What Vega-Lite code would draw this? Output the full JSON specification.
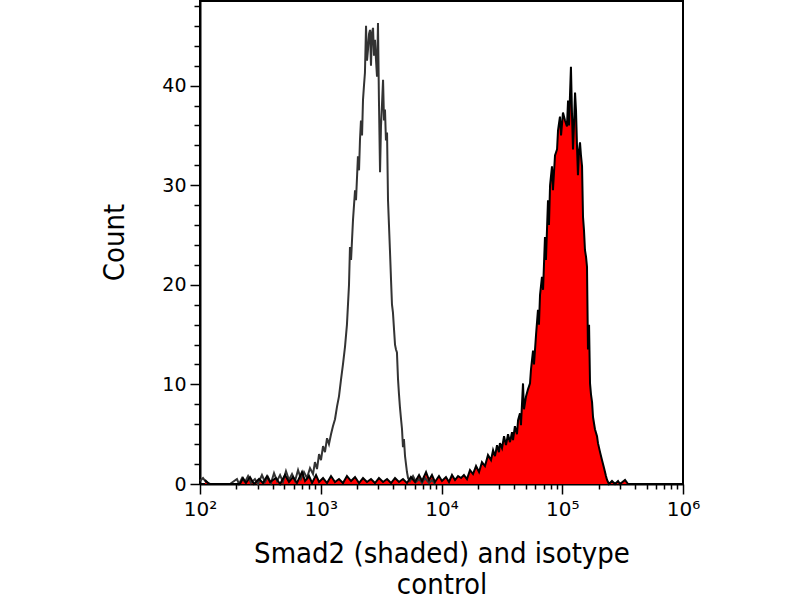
{
  "$schema": "https://vega.github.io/schema/vega-lite/v6.json",
  "autosize": {"type": "none"},
  "padding": {"left": 200, "top": 1, "right": 117, "bottom": 116},
  "width": 483,
  "height": 483,
  "background": "white",
  "config": {
    "view": {"stroke": "black", "strokeWidth": 2},
    "axis": {
      "grid": false,
      "domainColor": "black",
      "domainWidth": 2,
      "tickColor": "black",
      "tickWidth": 1.5,
      "labelColor": "black",
      "titleColor": "black",
      "labelFont": "DejaVu Sans",
      "titleFont": "DejaVu Sans Condensed, DejaVu Sans",
      "titleFontSize": 29,
      "titleFontWeight": "normal",
      "labelOverlap": false,
      "labelFlush": false
    }
  },
  "data": {
    "values": [
      {"series": "isotype", "log_intensity": 2.000, "count": 0.3},
      {"series": "isotype", "log_intensity": 2.025, "count": 0.6},
      {"series": "isotype", "log_intensity": 2.050, "count": 0.2},
      {"series": "isotype", "log_intensity": 2.083, "count": 0},
      {"series": "isotype", "log_intensity": 2.248, "count": 0},
      {"series": "isotype", "log_intensity": 2.306, "count": 0.5},
      {"series": "isotype", "log_intensity": 2.323, "count": 0},
      {"series": "isotype", "log_intensity": 2.348, "count": 0.6},
      {"series": "isotype", "log_intensity": 2.373, "count": 0.2},
      {"series": "isotype", "log_intensity": 2.398, "count": 0.8},
      {"series": "isotype", "log_intensity": 2.422, "count": 0.1},
      {"series": "isotype", "log_intensity": 2.455, "count": 0.5},
      {"series": "isotype", "log_intensity": 2.480, "count": 0},
      {"series": "isotype", "log_intensity": 2.513, "count": 0.9},
      {"series": "isotype", "log_intensity": 2.538, "count": 0.2},
      {"series": "isotype", "log_intensity": 2.563, "count": 0.7},
      {"series": "isotype", "log_intensity": 2.588, "count": 0.1},
      {"series": "isotype", "log_intensity": 2.613, "count": 1.1},
      {"series": "isotype", "log_intensity": 2.638, "count": 0.3},
      {"series": "isotype", "log_intensity": 2.663, "count": 0.9},
      {"series": "isotype", "log_intensity": 2.687, "count": 0.2},
      {"series": "isotype", "log_intensity": 2.712, "count": 1.3},
      {"series": "isotype", "log_intensity": 2.737, "count": 0.4},
      {"series": "isotype", "log_intensity": 2.762, "count": 1.0},
      {"series": "isotype", "log_intensity": 2.787, "count": 0.3},
      {"series": "isotype", "log_intensity": 2.812, "count": 1.4},
      {"series": "isotype", "log_intensity": 2.836, "count": 0.5},
      {"series": "isotype", "log_intensity": 2.861, "count": 1.2},
      {"series": "isotype", "log_intensity": 2.886, "count": 0.6},
      {"series": "isotype", "log_intensity": 2.911, "count": 1.6},
      {"series": "isotype", "log_intensity": 2.936, "count": 1.0},
      {"series": "isotype", "log_intensity": 2.952, "count": 2.2},
      {"series": "isotype", "log_intensity": 2.969, "count": 1.5},
      {"series": "isotype", "log_intensity": 2.986, "count": 3.0},
      {"series": "isotype", "log_intensity": 3.002, "count": 2.4},
      {"series": "isotype", "log_intensity": 3.019, "count": 3.8},
      {"series": "isotype", "log_intensity": 3.035, "count": 3.2},
      {"series": "isotype", "log_intensity": 3.052, "count": 4.6},
      {"series": "isotype", "log_intensity": 3.068, "count": 4.0},
      {"series": "isotype", "log_intensity": 3.085, "count": 5.0},
      {"series": "isotype", "log_intensity": 3.101, "count": 5.8},
      {"series": "isotype", "log_intensity": 3.118, "count": 6.5},
      {"series": "isotype", "log_intensity": 3.135, "count": 7.8},
      {"series": "isotype", "log_intensity": 3.151, "count": 8.8},
      {"series": "isotype", "log_intensity": 3.168, "count": 10.5},
      {"series": "isotype", "log_intensity": 3.184, "count": 12.0},
      {"series": "isotype", "log_intensity": 3.201, "count": 13.8},
      {"series": "isotype", "log_intensity": 3.217, "count": 16.0},
      {"series": "isotype", "log_intensity": 3.234, "count": 20.0},
      {"series": "isotype", "log_intensity": 3.242, "count": 23.8},
      {"series": "isotype", "log_intensity": 3.251, "count": 22.5},
      {"series": "isotype", "log_intensity": 3.259, "count": 24.5},
      {"series": "isotype", "log_intensity": 3.267, "count": 26.5},
      {"series": "isotype", "log_intensity": 3.284, "count": 29.5},
      {"series": "isotype", "log_intensity": 3.292, "count": 28.5},
      {"series": "isotype", "log_intensity": 3.308, "count": 32.9},
      {"series": "isotype", "log_intensity": 3.317, "count": 31.5},
      {"series": "isotype", "log_intensity": 3.325, "count": 34.6},
      {"series": "isotype", "log_intensity": 3.333, "count": 36.5},
      {"series": "isotype", "log_intensity": 3.342, "count": 35.0},
      {"series": "isotype", "log_intensity": 3.350, "count": 38.6},
      {"series": "isotype", "log_intensity": 3.358, "count": 40.0},
      {"series": "isotype", "log_intensity": 3.366, "count": 41.3},
      {"series": "isotype", "log_intensity": 3.375, "count": 46.0},
      {"series": "isotype", "log_intensity": 3.383, "count": 42.5},
      {"series": "isotype", "log_intensity": 3.391, "count": 43.6},
      {"series": "isotype", "log_intensity": 3.400, "count": 45.2},
      {"series": "isotype", "log_intensity": 3.408, "count": 45.6},
      {"series": "isotype", "log_intensity": 3.416, "count": 42.0},
      {"series": "isotype", "log_intensity": 3.424, "count": 45.3},
      {"series": "isotype", "log_intensity": 3.433, "count": 45.8},
      {"series": "isotype", "log_intensity": 3.441, "count": 43.0},
      {"series": "isotype", "log_intensity": 3.449, "count": 44.6},
      {"series": "isotype", "log_intensity": 3.458, "count": 42.5},
      {"series": "isotype", "log_intensity": 3.466, "count": 40.9},
      {"series": "isotype", "log_intensity": 3.474, "count": 46.3},
      {"series": "isotype", "log_intensity": 3.482, "count": 38.5},
      {"series": "isotype", "log_intensity": 3.491, "count": 31.3},
      {"series": "isotype", "log_intensity": 3.499, "count": 36.0},
      {"series": "isotype", "log_intensity": 3.507, "count": 38.0},
      {"series": "isotype", "log_intensity": 3.516, "count": 40.6},
      {"series": "isotype", "log_intensity": 3.524, "count": 36.5},
      {"series": "isotype", "log_intensity": 3.532, "count": 37.6},
      {"series": "isotype", "log_intensity": 3.540, "count": 34.5},
      {"series": "isotype", "log_intensity": 3.549, "count": 35.3},
      {"series": "isotype", "log_intensity": 3.557, "count": 28.5},
      {"series": "isotype", "log_intensity": 3.565, "count": 26.0},
      {"series": "isotype", "log_intensity": 3.573, "count": 23.5},
      {"series": "isotype", "log_intensity": 3.582, "count": 20.5},
      {"series": "isotype", "log_intensity": 3.590, "count": 18.0},
      {"series": "isotype", "log_intensity": 3.598, "count": 17.2},
      {"series": "isotype", "log_intensity": 3.607, "count": 15.5},
      {"series": "isotype", "log_intensity": 3.615, "count": 14.0},
      {"series": "isotype", "log_intensity": 3.623, "count": 13.5},
      {"series": "isotype", "log_intensity": 3.631, "count": 13.2},
      {"series": "isotype", "log_intensity": 3.640, "count": 10.5},
      {"series": "isotype", "log_intensity": 3.648, "count": 9.0},
      {"series": "isotype", "log_intensity": 3.656, "count": 7.7},
      {"series": "isotype", "log_intensity": 3.665, "count": 6.5},
      {"series": "isotype", "log_intensity": 3.673, "count": 5.5},
      {"series": "isotype", "log_intensity": 3.681, "count": 3.7},
      {"series": "isotype", "log_intensity": 3.689, "count": 4.5},
      {"series": "isotype", "log_intensity": 3.698, "count": 2.8},
      {"series": "isotype", "log_intensity": 3.706, "count": 2.0},
      {"series": "isotype", "log_intensity": 3.714, "count": 1.2},
      {"series": "isotype", "log_intensity": 3.723, "count": 0.6},
      {"series": "isotype", "log_intensity": 3.739, "count": 0.3},
      {"series": "isotype", "log_intensity": 3.764, "count": 0.8},
      {"series": "isotype", "log_intensity": 3.789, "count": 0.2},
      {"series": "isotype", "log_intensity": 3.814, "count": 0.5},
      {"series": "isotype", "log_intensity": 3.839, "count": 0.1},
      {"series": "isotype", "log_intensity": 3.863, "count": 0.6},
      {"series": "isotype", "log_intensity": 3.897, "count": 0.1},
      {"series": "isotype", "log_intensity": 3.921, "count": 0.4},
      {"series": "isotype", "log_intensity": 3.946, "count": 0},
      {"series": "smad2", "log_intensity": 2.041, "count": 0.4},
      {"series": "smad2", "log_intensity": 2.075, "count": 0},
      {"series": "smad2", "log_intensity": 2.331, "count": 0},
      {"series": "smad2", "log_intensity": 2.356, "count": 0.6},
      {"series": "smad2", "log_intensity": 2.381, "count": 0.1},
      {"series": "smad2", "log_intensity": 2.414, "count": 0.7},
      {"series": "smad2", "log_intensity": 2.447, "count": 0},
      {"series": "smad2", "log_intensity": 2.489, "count": 0.5},
      {"series": "smad2", "log_intensity": 2.522, "count": 0.1},
      {"series": "smad2", "log_intensity": 2.555, "count": 0.8},
      {"series": "smad2", "log_intensity": 2.580, "count": 0.2},
      {"series": "smad2", "log_intensity": 2.629, "count": 0.6},
      {"series": "smad2", "log_intensity": 2.663, "count": 0},
      {"series": "smad2", "log_intensity": 2.704, "count": 0.9},
      {"series": "smad2", "log_intensity": 2.737, "count": 0.2},
      {"series": "smad2", "log_intensity": 2.770, "count": 0.7},
      {"series": "smad2", "log_intensity": 2.803, "count": 0.1},
      {"series": "smad2", "log_intensity": 2.845, "count": 1.2},
      {"series": "smad2", "log_intensity": 2.870, "count": 0.3},
      {"series": "smad2", "log_intensity": 2.903, "count": 0.8},
      {"series": "smad2", "log_intensity": 2.928, "count": 0.1},
      {"series": "smad2", "log_intensity": 2.961, "count": 0.9},
      {"series": "smad2", "log_intensity": 2.986, "count": 0.2},
      {"series": "smad2", "log_intensity": 3.019, "count": 0.6},
      {"series": "smad2", "log_intensity": 3.052, "count": 0.1},
      {"series": "smad2", "log_intensity": 3.085, "count": 0.8},
      {"series": "smad2", "log_intensity": 3.118, "count": 0.2},
      {"series": "smad2", "log_intensity": 3.151, "count": 0.5},
      {"series": "smad2", "log_intensity": 3.184, "count": 0.1},
      {"series": "smad2", "log_intensity": 3.217, "count": 0.8},
      {"series": "smad2", "log_intensity": 3.251, "count": 0.3},
      {"series": "smad2", "log_intensity": 3.284, "count": 0.7},
      {"series": "smad2", "log_intensity": 3.317, "count": 0.1},
      {"series": "smad2", "log_intensity": 3.350, "count": 0.6},
      {"series": "smad2", "log_intensity": 3.383, "count": 0.2},
      {"series": "smad2", "log_intensity": 3.416, "count": 0.5},
      {"series": "smad2", "log_intensity": 3.449, "count": 0.1},
      {"series": "smad2", "log_intensity": 3.482, "count": 0.6},
      {"series": "smad2", "log_intensity": 3.516, "count": 0.2},
      {"series": "smad2", "log_intensity": 3.549, "count": 0.5},
      {"series": "smad2", "log_intensity": 3.582, "count": 0.1},
      {"series": "smad2", "log_intensity": 3.615, "count": 0.6},
      {"series": "smad2", "log_intensity": 3.648, "count": 0.2},
      {"series": "smad2", "log_intensity": 3.681, "count": 0.5},
      {"series": "smad2", "log_intensity": 3.714, "count": 0.1},
      {"series": "smad2", "log_intensity": 3.747, "count": 0.7},
      {"series": "smad2", "log_intensity": 3.781, "count": 0.2},
      {"series": "smad2", "log_intensity": 3.814, "count": 0.9},
      {"series": "smad2", "log_intensity": 3.839, "count": 0.3},
      {"series": "smad2", "log_intensity": 3.872, "count": 1.2},
      {"series": "smad2", "log_intensity": 3.897, "count": 0.4},
      {"series": "smad2", "log_intensity": 3.921, "count": 0.9},
      {"series": "smad2", "log_intensity": 3.946, "count": 0.2},
      {"series": "smad2", "log_intensity": 3.979, "count": 0.8},
      {"series": "smad2", "log_intensity": 4.004, "count": 0.3},
      {"series": "smad2", "log_intensity": 4.037, "count": 0.7},
      {"series": "smad2", "log_intensity": 4.062, "count": 0.2},
      {"series": "smad2", "log_intensity": 4.087, "count": 0.9},
      {"series": "smad2", "log_intensity": 4.112, "count": 0.4},
      {"series": "smad2", "log_intensity": 4.137, "count": 0.8},
      {"series": "smad2", "log_intensity": 4.162, "count": 0.6},
      {"series": "smad2", "log_intensity": 4.186, "count": 0.9},
      {"series": "smad2", "log_intensity": 4.211, "count": 0.5},
      {"series": "smad2", "log_intensity": 4.236, "count": 1.4},
      {"series": "smad2", "log_intensity": 4.261, "count": 1.0},
      {"series": "smad2", "log_intensity": 4.286, "count": 1.8},
      {"series": "smad2", "log_intensity": 4.311, "count": 1.2},
      {"series": "smad2", "log_intensity": 4.335, "count": 2.2},
      {"series": "smad2", "log_intensity": 4.360, "count": 1.8},
      {"series": "smad2", "log_intensity": 4.385, "count": 2.9},
      {"series": "smad2", "log_intensity": 4.410, "count": 2.4},
      {"series": "smad2", "log_intensity": 4.427, "count": 3.4},
      {"series": "smad2", "log_intensity": 4.443, "count": 2.8},
      {"series": "smad2", "log_intensity": 4.460, "count": 3.9},
      {"series": "smad2", "log_intensity": 4.476, "count": 3.2},
      {"series": "smad2", "log_intensity": 4.484, "count": 4.1},
      {"series": "smad2", "log_intensity": 4.501, "count": 3.6},
      {"series": "smad2", "log_intensity": 4.518, "count": 4.8},
      {"series": "smad2", "log_intensity": 4.534, "count": 3.9},
      {"series": "smad2", "log_intensity": 4.551, "count": 5.0},
      {"series": "smad2", "log_intensity": 4.567, "count": 4.2},
      {"series": "smad2", "log_intensity": 4.584, "count": 5.2},
      {"series": "smad2", "log_intensity": 4.592, "count": 4.4},
      {"series": "smad2", "log_intensity": 4.608, "count": 5.8},
      {"series": "smad2", "log_intensity": 4.625, "count": 5.0},
      {"series": "smad2", "log_intensity": 4.634, "count": 6.4},
      {"series": "smad2", "log_intensity": 4.650, "count": 7.1},
      {"series": "smad2", "log_intensity": 4.658, "count": 5.9},
      {"series": "smad2", "log_intensity": 4.675, "count": 10.1},
      {"series": "smad2", "log_intensity": 4.683, "count": 7.5},
      {"series": "smad2", "log_intensity": 4.700, "count": 8.8},
      {"series": "smad2", "log_intensity": 4.716, "count": 9.5},
      {"series": "smad2", "log_intensity": 4.733, "count": 10.1},
      {"series": "smad2", "log_intensity": 4.741, "count": 11.5},
      {"series": "smad2", "log_intensity": 4.758, "count": 13.4},
      {"series": "smad2", "log_intensity": 4.766, "count": 12.0},
      {"series": "smad2", "log_intensity": 4.783, "count": 15.0},
      {"series": "smad2", "log_intensity": 4.799, "count": 17.5},
      {"series": "smad2", "log_intensity": 4.807, "count": 16.0},
      {"series": "smad2", "log_intensity": 4.816, "count": 19.0},
      {"series": "smad2", "log_intensity": 4.832, "count": 20.8},
      {"series": "smad2", "log_intensity": 4.841, "count": 19.5},
      {"series": "smad2", "log_intensity": 4.857, "count": 24.8},
      {"series": "smad2", "log_intensity": 4.865, "count": 22.5},
      {"series": "smad2", "log_intensity": 4.882, "count": 28.5},
      {"series": "smad2", "log_intensity": 4.890, "count": 26.0},
      {"series": "smad2", "log_intensity": 4.899, "count": 30.0},
      {"series": "smad2", "log_intensity": 4.915, "count": 31.9},
      {"series": "smad2", "log_intensity": 4.923, "count": 29.5},
      {"series": "smad2", "log_intensity": 4.940, "count": 33.0},
      {"series": "smad2", "log_intensity": 4.957, "count": 33.6},
      {"series": "smad2", "log_intensity": 4.965, "count": 35.5},
      {"series": "smad2", "log_intensity": 4.981, "count": 36.9},
      {"series": "smad2", "log_intensity": 4.990, "count": 35.0},
      {"series": "smad2", "log_intensity": 5.006, "count": 37.3},
      {"series": "smad2", "log_intensity": 5.023, "count": 36.5},
      {"series": "smad2", "log_intensity": 5.039, "count": 35.9},
      {"series": "smad2", "log_intensity": 5.048, "count": 38.5},
      {"series": "smad2", "log_intensity": 5.056, "count": 36.0},
      {"series": "smad2", "log_intensity": 5.064, "count": 39.0},
      {"series": "smad2", "log_intensity": 5.072, "count": 41.9},
      {"series": "smad2", "log_intensity": 5.081, "count": 37.0},
      {"series": "smad2", "log_intensity": 5.089, "count": 33.6},
      {"series": "smad2", "log_intensity": 5.097, "count": 36.0},
      {"series": "smad2", "log_intensity": 5.106, "count": 39.3},
      {"series": "smad2", "log_intensity": 5.114, "count": 37.5},
      {"series": "smad2", "log_intensity": 5.122, "count": 34.0},
      {"series": "smad2", "log_intensity": 5.130, "count": 31.0},
      {"series": "smad2", "log_intensity": 5.139, "count": 33.5},
      {"series": "smad2", "log_intensity": 5.147, "count": 34.3},
      {"series": "smad2", "log_intensity": 5.155, "count": 33.0},
      {"series": "smad2", "log_intensity": 5.164, "count": 31.9},
      {"series": "smad2", "log_intensity": 5.172, "count": 26.8},
      {"series": "smad2", "log_intensity": 5.180, "count": 25.5},
      {"series": "smad2", "log_intensity": 5.188, "count": 23.5},
      {"series": "smad2", "log_intensity": 5.197, "count": 22.8},
      {"series": "smad2", "log_intensity": 5.205, "count": 21.8},
      {"series": "smad2", "log_intensity": 5.213, "count": 13.5},
      {"series": "smad2", "log_intensity": 5.222, "count": 16.0},
      {"series": "smad2", "log_intensity": 5.230, "count": 10.1},
      {"series": "smad2", "log_intensity": 5.238, "count": 9.0},
      {"series": "smad2", "log_intensity": 5.247, "count": 8.2},
      {"series": "smad2", "log_intensity": 5.255, "count": 6.7},
      {"series": "smad2", "log_intensity": 5.271, "count": 5.5},
      {"series": "smad2", "log_intensity": 5.288, "count": 4.8},
      {"series": "smad2", "log_intensity": 5.296, "count": 4.1},
      {"series": "smad2", "log_intensity": 5.313, "count": 3.2},
      {"series": "smad2", "log_intensity": 5.329, "count": 2.4},
      {"series": "smad2", "log_intensity": 5.346, "count": 1.6},
      {"series": "smad2", "log_intensity": 5.362, "count": 0.8},
      {"series": "smad2", "log_intensity": 5.371, "count": 0.4},
      {"series": "smad2", "log_intensity": 5.387, "count": 0},
      {"series": "smad2", "log_intensity": 5.412, "count": 0.3},
      {"series": "smad2", "log_intensity": 5.437, "count": 0},
      {"series": "smad2", "log_intensity": 5.462, "count": 0.3},
      {"series": "smad2", "log_intensity": 5.478, "count": 0},
      {"series": "smad2", "log_intensity": 5.520, "count": 0.4},
      {"series": "smad2", "log_intensity": 5.545, "count": 0}
    ]
  },
  "encoding": {
    "x": {
      "field": "log_intensity",
      "type": "quantitative",
      "scale": {"domain": [2, 6], "nice": false, "zero": false},
      "axis": {
        "values": [2, 2.301, 2.477, 2.602, 2.699, 2.778, 2.845, 2.903, 2.954,
                   3, 3.301, 3.477, 3.602, 3.699, 3.778, 3.845, 3.903, 3.954,
                   4, 4.301, 4.477, 4.602, 4.699, 4.778, 4.845, 4.903, 4.954,
                   5, 5.301, 5.477, 5.602, 5.699, 5.778, 5.845, 5.903, 5.954, 6],
        "labelExpr": "abs(datum.value - round(datum.value)) < 0.001 ? '10' + ['⁰','¹','²','³','⁴','⁵','⁶'][round(datum.value)] : ''",
        "tickSize": {"condition": {"test": "abs(datum.value - round(datum.value)) < 0.001", "value": 10}, "value": 5},
        "labelFontSize": 20,
        "labelPadding": 5,
        "title": ["Smad2 (shaded) and isotype", "control"],
        "titleLineHeight": 31,
        "titleX": 241.5,
        "titleY": 78,
        "titleAlign": "center",
        "titleBaseline": "alphabetic"
      }
    },
    "y": {
      "field": "count",
      "type": "quantitative",
      "scale": {"domain": [0, 48.5], "nice": false},
      "axis": {
        "values": [0, 2, 4, 6, 8, 10, 12, 14, 16, 18, 20, 22, 24, 26, 28, 30, 32, 34, 36, 38, 40, 42, 44, 46, 48],
        "labelExpr": "datum.value % 10 == 0 ? datum.label : ''",
        "tickSize": {"condition": {"test": "datum.value % 10 == 0", "value": 10}, "value": 6},
        "labelFontSize": 19,
        "labelPadding": 4,
        "title": "Count",
        "titleAngle": -90,
        "titleX": -77,
        "titleY": 241,
        "titleAlign": "center",
        "titleBaseline": "alphabetic"
      }
    }
  },
  "layer": [
    {
      "transform": [{"filter": "datum.series == 'smad2'"}],
      "mark": {"type": "area", "color": "#ff0000", "opacity": 1}
    },
    {
      "transform": [{"filter": "datum.series == 'isotype'"}],
      "mark": {"type": "line", "color": "#333333", "strokeWidth": 2}
    },
    {
      "transform": [{"filter": "datum.series == 'smad2'"}],
      "mark": {"type": "line", "color": "#000000", "strokeWidth": 2}
    }
  ]
}
